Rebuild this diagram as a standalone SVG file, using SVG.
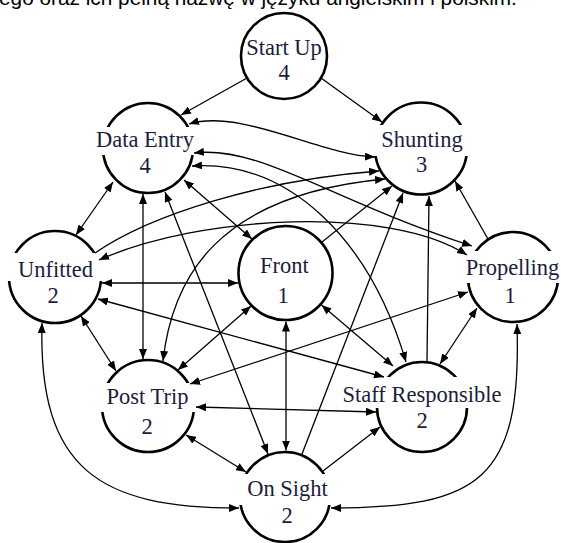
<svg xmlns="http://www.w3.org/2000/svg" width="561" height="543" viewBox="0 0 561 543">
<style>
.ring{fill:none;stroke:#000;stroke-width:2.6}
.gap{fill:#fff}
.lbl{font-family:"Liberation Serif","Times New Roman",serif;font-size:22.5px;fill:#1c1c3c;text-anchor:middle}
.top{font-family:"Liberation Sans",Arial,sans-serif;font-size:20.8px;fill:#000}
.e{fill:none;stroke:#000;stroke-width:1.3}
.b{marker-start:url(#ah);marker-end:url(#ah)}
.s{marker-end:url(#ah)}
</style>
<defs>
<marker id="ah" viewBox="0 0 10 8" refX="10" refY="4" markerWidth="10" markerHeight="8" markerUnits="userSpaceOnUse" orient="auto-start-reverse"><path d="M0,0 L10,4 L0,8 z" fill="#000"/></marker>
</defs>
<rect width="561" height="543" fill="#fff"/>
<text class="top" x="-1" y="5">ego oraz ich pełną nazwę w języku angielskim i polskim.</text>

<g id="node-startup"><circle class="ring" cx="284" cy="56" r="43"/><text class="lbl" x="284" y="55">Start Up</text><text class="lbl" x="284" y="80">4</text></g>
<g id="node-dataentry"><circle class="ring" cx="148" cy="148" r="45"/><rect class="gap" x="99" y="127" width="98" height="28"/><text class="lbl" x="145" y="147">Data Entry</text><text class="lbl" x="145" y="173">4</text></g>
<g id="node-shunting"><circle class="ring" cx="421" cy="148.5" r="46"/><rect class="gap" x="371" y="125" width="100" height="31"/><text class="lbl" x="422" y="147">Shunting</text><text class="lbl" x="421.5" y="172">3</text></g>
<g id="node-unfitted"><circle class="ring" cx="55" cy="277" r="46"/><rect class="gap" x="5" y="253" width="100" height="28"/><text class="lbl" x="55.5" y="277">Unfitted</text><text class="lbl" x="53" y="303">2</text></g>
<g id="node-front"><circle class="ring" cx="285.5" cy="273" r="47"/><text class="lbl" x="284.5" y="273">Front</text><text class="lbl" x="283" y="303">1</text></g>
<g id="node-propelling"><circle class="ring" cx="513" cy="277" r="45"/><rect class="gap" x="463" y="251" width="98" height="32"/><text class="lbl" x="512.5" y="275">Propelling</text><text class="lbl" x="510" y="303">1</text></g>
<g id="node-posttrip"><circle class="ring" cx="148" cy="406" r="46"/><rect class="gap" x="98" y="383" width="100" height="29"/><text class="lbl" x="147.5" y="404">Post Trip</text><text class="lbl" x="147" y="434">2</text></g>
<g id="node-staffresponsible"><circle class="ring" cx="422" cy="407" r="45"/><rect class="gap" x="372" y="377" width="100" height="31"/><text class="lbl" x="422" y="402">Staff Responsible</text><text class="lbl" x="422" y="428">2</text></g>
<g id="node-onsight"><circle class="ring" cx="285" cy="497" r="45"/><rect class="gap" x="235" y="474" width="100" height="31"/><text class="lbl" x="287.5" y="496">On Sight</text><text class="lbl" x="287" y="523">2</text></g>

<g id="connectors">
<path class="e s" d="M247,78 L181,115"/>
<path class="e s" d="M321,78 L382,122"/>
<path class="e b" d="M189,124 C240,108 320,155 375,157"/>
<path class="e b" d="M194,153 C260,145 330,200 472,246"/>
<path class="e b" d="M192,166 C290,160 370,240 406,362"/>
<path class="e b" d="M184,180 L252,239"/>
<path class="e b" d="M165,192 L268,454"/>
<path class="e b" d="M143,194 L143,359"/>
<path class="e b" d="M113,182 L76,235"/>
<path class="e s" d="M95,253 C150,215 260,180 379,171"/>
<path class="e b" d="M99,260 C200,215 390,205 467,255"/>
<path class="e b" d="M102,283 L238,283"/>
<path class="e b" d="M98,299 L384,377"/>
<path class="e b" d="M81,316 L116,371"/>
<path class="e b" d="M42,323 C38,470 100,508 239,508"/>
<path class="e b" d="M517,324 C522,480 480,508 331,508"/>
<path class="e s" d="M488,239 L455,181"/>
<path class="e b" d="M477,308 L440,364"/>
<path class="e b" d="M190,384 L468,292"/>
<path class="e s" d="M427,361 L429,196"/>
<path class="e s" d="M322,242 L392,186"/>
<path class="e b" d="M321.5,305 L393,366"/>
<path class="e b" d="M251,306 L178,370"/>
<path class="e b" d="M286,321.5 L286,450.5"/>
<path class="e s" d="M302,454 L403,193"/>
<path class="e s" d="M323,471 L380,427"/>
<path class="e b" d="M196,407 L376,412"/>
<path class="e b" d="M186,435 L246,472"/>
<path class="e b" d="M163,361 C172,280 215,195 385,179"/>
</g>
</svg>
